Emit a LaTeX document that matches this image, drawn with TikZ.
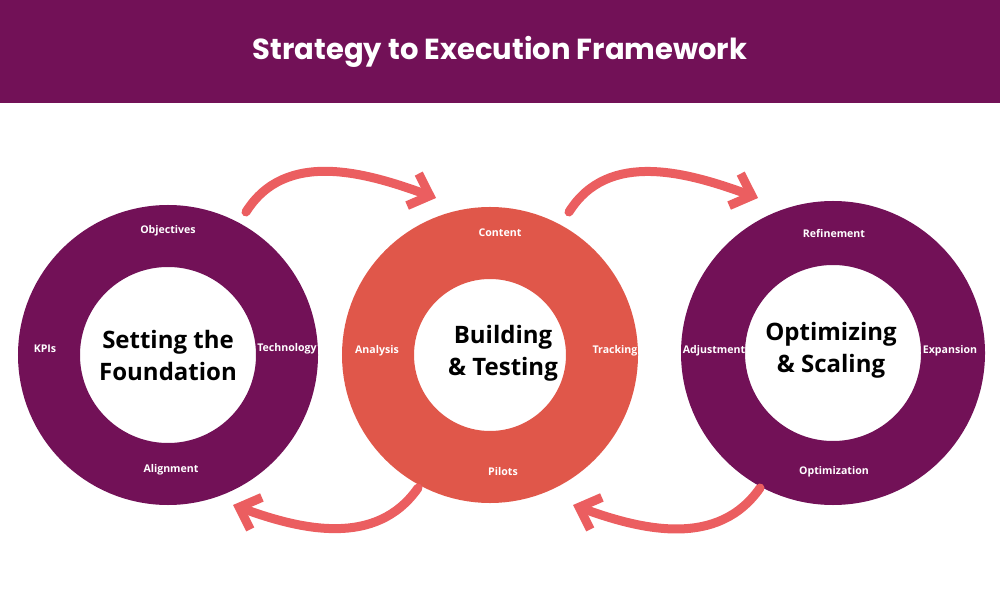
\documentclass[tikz,border=0pt]{standalone}
\usepackage{fontspec}
\setmainfont{Open Sans}
\newfontfamily\titlefont{Poppins}
\usetikzlibrary{arrows.meta}
\definecolor{plum}{HTML}{721157}
\definecolor{coral}{HTML}{E0574A}
\definecolor{arrowred}{HTML}{EB5E60}
\tikzset{
  ring/.style={circle, draw=#1, inner sep=0pt, align=center,
    font=\fontsize{12}{16}\selectfont\bfseries},
  centertext/.style={align=center, font=\fontsize{12}{16}\selectfont\bfseries},
  ringlabel/.style={text=white, font=\fontsize{5.3}{6}\selectfont\bfseries},
  loop arrow/.style={arrowred, line width=4.5pt, line cap=round,
    -{Straight Barb[length=9pt, width=17pt, line width=4.5pt]}}
}
\begin{document}
\begin{tikzpicture}[x=0.5pt,y=0.5pt]
  \useasboundingbox (0,0) rectangle (1000,600);
  \fill[plum] (0,497) rectangle (1000,600);
  \node[text=white, font=\titlefont\fontsize{14.5}{16}\selectfont\bfseries] (title) at (500,548) {Strategy to Execution Framework};

  % the three rings
  \node[ring=plum, line width=31pt, minimum size=119pt] (found) at (168,245) {Setting the\\Foundation};
  \node[ring=coral, line width=36pt, minimum size=112pt] (build) at (490,245) {};
  \node[centertext] (buildtext) at (503,247) {Building\\\& Testing};
  \node[ring=plum, line width=32pt, minimum size=120pt] (optim) at (833,247) {};
  \node[centertext] (optimtext) at (831,250) {Optimizing\\\& Scaling};

  % labels on the rings
  \node[ringlabel] (objectives) at (168,369) {Objectives};
  \node[ringlabel] (kpis) at (45,251) {KPIs};
  \node[ringlabel] (technology) at (287,251) {Technology};
  \node[ringlabel] (alignment) at (171,130) {Alignment};
  \node[ringlabel] (content) at (500,367) {Content};
  \node[ringlabel] (analysis) at (377,249) {Analysis};
  \node[ringlabel] (tracking) at (615,249) {Tracking};
  \node[ringlabel] (pilots) at (503,128) {Pilots};
  \node[ringlabel] (refinement) at (834,367) {Refinement};
  \node[ringlabel] (adjustment) at (714,249) {Adjustment};
  \node[ringlabel] (expansion) at (950,249) {Expansion};
  \node[ringlabel] (optimization) at (834,128) {Optimization};

  % arrows between the rings
  \coordinate (f1) at (246,388);
  \coordinate (b1) at (436,402);
  \coordinate (b2) at (569,388);
  \coordinate (o1) at (758,402);
  \coordinate (o2) at (760,112);
  \coordinate (b3) at (573,95);
  \coordinate (b4) at (418,112);
  \coordinate (f2) at (233,95);
  \draw[loop arrow] (f1) to[out=58, in=160] (b1);
  \draw[loop arrow] (b2) to[out=58, in=160] (o1);
  \draw[loop arrow] (o2) to[out=-125, in=-20] (b3);
  \draw[loop arrow] (b4) to[out=-125, in=-20] (f2);
\end{tikzpicture}
\end{document}
